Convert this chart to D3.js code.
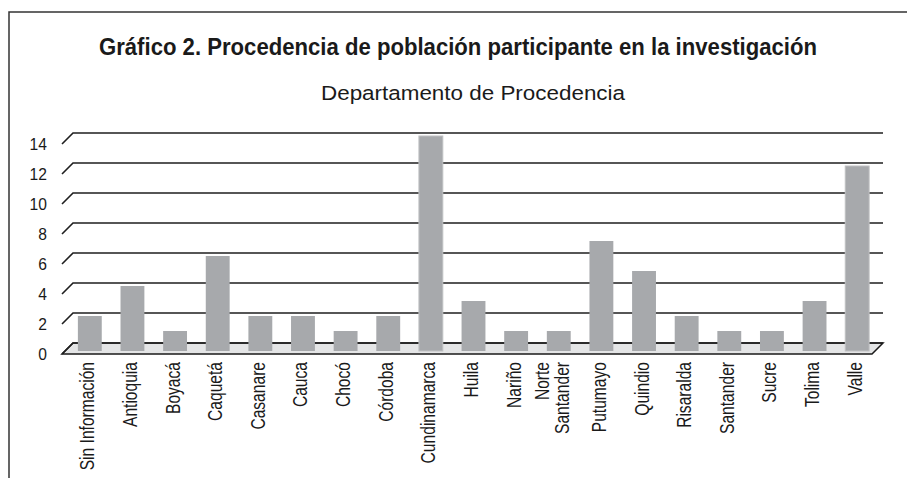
<!doctype html>
<html lang='es'>
<head>
  <meta charset='utf-8'>
  <title>Procedencia</title>
  <style>
    html, body { margin: 0; padding: 0; background: #fff; }
    svg { display: block; }
    text { font-family: 'Liberation Sans', Arial, sans-serif; fill: #1a1a1a; }
  </style>
</head>
<body>
  <script src='https://d3js.org/d3.v7.min.js'></script>
  <script>
    // data
    const categories = ['Sin Información', 'Antioquia', 'Boyacá', 'Caquetá', 'Casanare', 'Cauca', 'Chocó',
      'Córdoba', 'Cundinamarca', 'Huila', 'Nariño', 'Norte Santander', 'Putumayo', 'Quindio', 'Risaralda',
      'Santander', 'Sucre', 'Tolima', 'Valle']
    const values = [2, 4, 1, 6, 2, 2, 1, 2, 14, 3, 1, 1, 7, 5, 2, 1, 1, 3, 12]
    const yTicks = [0, 2, 4, 6, 8, 10, 12, 14]
    const title = 'Gráfico 2. Procedencia de población participante en la investigación'
    const subtitle = 'Departamento de Procedencia'

    const width = 907
    const height = 478
    const depthX = 11   // fake 3d depth of the wall
    const depthY = 11
    const barDx = 6.5   // bars sit a bit behind the front edge
    const barDy = 8
    const narrow = 0.78 // squeeze Liberation Sans to look like a condensed face

    const svg = d3.select('body').append('svg')
      .attr('width', width)
      .attr('height', height)

    // frame (cropped on right and bottom)
    svg.append('path')
      .attr('d', `M9,${height} L9,12 L${width},12`)
      .attr('fill', 'none')
      .attr('stroke', '#333')
      .attr('stroke-width', 1.5)

    svg.append('text')
      .attr('x', 458)
      .attr('y', 55)
      .attr('text-anchor', 'middle')
      .style('font-size', '23px')
      .style('font-weight', 'bold')
      .attr('textLength', 718)
      .attr('lengthAdjust', 'spacingAndGlyphs')
      .text(title)

    svg.append('text')
      .attr('x', 473)
      .attr('y', 100)
      .attr('text-anchor', 'middle')
      .style('font-size', '20.5px')
      .attr('textLength', 304)
      .attr('lengthAdjust', 'spacingAndGlyphs')
      .text(subtitle)

    const x = d3.scaleBand()
      .domain(categories)
      .range([62, 872])
      .paddingInner(0.44)
      .paddingOuter(0.22)

    const y = d3.scaleLinear()
      .domain([0, 14])
      .range([354, 144])

    const x0 = x.range()[0]
    const x1 = x.range()[1]

    // floor
    svg.append('path')
      .attr('d', `M${x0},${y(0)} L${x0 + depthX},${y(0) - depthY} L${x1 + depthX},${y(0) - depthY} L${x1},${y(0)} Z`)
      .attr('fill', '#e4e5e6')
      .attr('stroke', '#1a1a1a')
      .attr('stroke-width', 1.5)

    // gridlines on the back wall + the slanted bit on the side wall
    const grid = svg.append('g')
      .attr('fill', 'none')
      .attr('stroke', '#1f1f1f')
      .attr('stroke-width', 1.6)

    grid.selectAll('path')
      .data(yTicks)
      .join('path')
      .attr('d', d => `M${x0},${y(d)} L${x0 + depthX},${y(d) - depthY} L${x1 + depthX},${y(d) - depthY}`)

    // y labels
    svg.append('g')
      .selectAll('text')
      .data(yTicks)
      .join('text')
      .attr('transform', d => `translate(47,${y(d)}) scale(0.92,1)`)
      .attr('dy', '0.35em')
      .attr('text-anchor', 'end')
      .style('font-size', '17px')
      .text(d => d)

    // bars
    svg.append('g')
      .selectAll('rect')
      .data(values)
      .join('rect')
      .attr('x', (d, i) => x(categories[i]) + barDx)
      .attr('y', d => y(d) - barDy)
      .attr('width', x.bandwidth())
      .attr('height', d => y(0) - 3 - (y(d) - barDy))
      .attr('fill', '#a7a9ac')
      .attr('stroke', d => d > 10 ? '#bfc0c2' : 'none')
      .attr('stroke-width', 1)

    // category labels, rotated
    const labels = svg.append('g')
      .selectAll('text')
      .data(categories)
      .join('text')
      .attr('transform', d => `translate(${x(d) + x.bandwidth() / 2 + 4},362) rotate(-90) scale(${narrow},1)`)
      .attr('text-anchor', 'end')
      .style('font-size', '20px')

    labels.each(function (d) {
      const words = d === 'Norte Santander' ? ['Norte', 'Santander'] : [d]
      const t = d3.select(this)
      words.forEach((w, k) => {
        t.append('tspan')
          .attr('x', 0)
          .attr('dy', words.length === 1 ? '0.35em' : (k === 0 ? '-0.35em' : '1em'))
          .text(w)
      })
    })
  </script>
</body>
</html>
